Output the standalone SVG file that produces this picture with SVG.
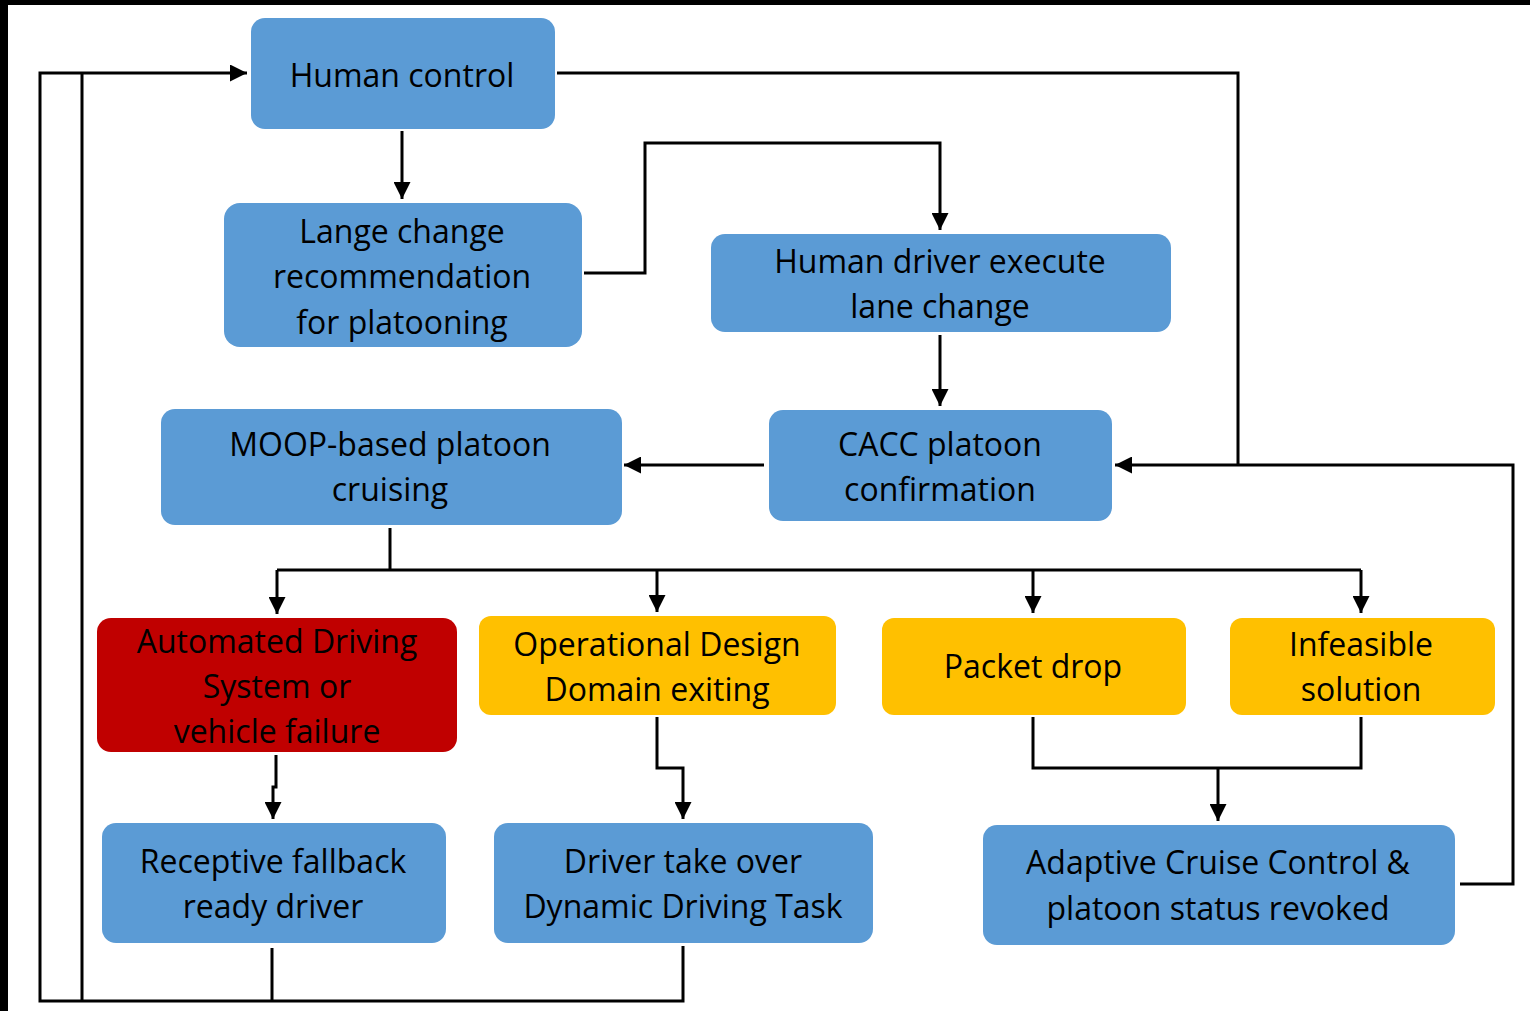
<svg xmlns="http://www.w3.org/2000/svg" width="1530" height="1011" viewBox="0 0 1530 1011">
<defs>
<style>
.blue{fill:#5B9BD5}
.red{fill:#C00000}
.yel{fill:#FFC000}
text{font-family:"Open Sans","Noto Sans","Liberation Sans",sans-serif;font-size:32px;fill:#000;text-anchor:middle}
.c{fill:none;stroke:#000;stroke-width:3}
</style>
<marker id="ah" viewBox="0 0 10 10" refX="10" refY="5" markerWidth="19" markerHeight="17" markerUnits="userSpaceOnUse" orient="auto">
<path d="M0,0 L10,5 L0,10 z" fill="#000"/>
</marker>
</defs>
<rect x="0" y="0" width="1530" height="1011" fill="#fff"/>
<rect x="0" y="0" width="1530" height="5" fill="#000"/>
<rect x="0" y="0" width="8" height="1011" fill="#000"/>

<g id="connectors">
<polyline class="c" points="402,131 402,199" marker-end="url(#ah)"/>
<polyline class="c" points="584,273 645,273 645,143 940,143 940,230" marker-end="url(#ah)"/>
<polyline class="c" points="940,335 940,406" marker-end="url(#ah)"/>
<polyline class="c" points="764,465 624,465" marker-end="url(#ah)"/>
<polyline class="c" points="557,73 1238,73 1238,465"/>
<polyline class="c" points="1460,884 1513,884 1513,465 1115,465" marker-end="url(#ah)"/>
<polyline class="c" points="390,528 390,570"/>
<polyline class="c" points="277,570 1361,570"/>
<polyline class="c" points="277,570 277,614" marker-end="url(#ah)"/>
<polyline class="c" points="657,570 657,612" marker-end="url(#ah)"/>
<polyline class="c" points="1033,570 1033,613" marker-end="url(#ah)"/>
<polyline class="c" points="1361,570 1361,613" marker-end="url(#ah)"/>
<polyline class="c" points="276,755 276,787 273,787 273,819" marker-end="url(#ah)"/>
<polyline class="c" points="657,717 657,768 683,768 683,819" marker-end="url(#ah)"/>
<polyline class="c" points="1033,717 1033,768 1361,768 1361,717"/>
<polyline class="c" points="1218,768 1218,821" marker-end="url(#ah)"/>
<polyline class="c" points="272,948 272,1001"/>
<polyline class="c" points="683,946 683,1001 40,1001 40,73 247,73" marker-end="url(#ah)"/>
<polyline class="c" points="82,1001 82,73"/>
</g>

<g id="human-control">
<rect class="blue" x="251" y="18" width="304" height="111" rx="14"/>
<text x="402" y="87">Human control</text>
</g>
<g id="lane-change-recommendation">
<rect class="blue" x="224" y="203" width="358" height="144" rx="16"/>
<text x="402" y="243">Lange change</text>
<text x="402" y="288">recommendation</text>
<text x="402" y="334">for platooning</text>
</g>
<g id="human-driver-execute">
<rect class="blue" x="711" y="234" width="460" height="98" rx="14"/>
<text x="940" y="273">Human driver execute</text>
<text x="940" y="318">lane change</text>
</g>
<g id="moop-cruising">
<rect class="blue" x="161" y="409" width="461" height="116" rx="14"/>
<text x="390" y="456">MOOP-based platoon</text>
<text x="390" y="501">cruising</text>
</g>
<g id="cacc-confirmation">
<rect class="blue" x="769" y="410" width="343" height="111" rx="14"/>
<text x="940" y="456">CACC platoon</text>
<text x="940" y="501">confirmation</text>
</g>
<g id="ads-failure">
<rect class="red" x="97" y="618" width="360" height="134" rx="14"/>
<text x="277" y="653">Automated Driving</text>
<text x="277" y="698">System or</text>
<text x="277" y="743">vehicle failure</text>
</g>
<g id="odd-exiting">
<rect class="yel" x="479" y="616" width="357" height="99" rx="12"/>
<text x="657" y="656">Operational Design</text>
<text x="657" y="701">Domain exiting</text>
</g>
<g id="packet-drop">
<rect class="yel" x="882" y="618" width="304" height="97" rx="12"/>
<text x="1033" y="678">Packet drop</text>
</g>
<g id="infeasible-solution">
<rect class="yel" x="1230" y="618" width="265" height="97" rx="12"/>
<text x="1361" y="656">Infeasible</text>
<text x="1361" y="701">solution</text>
</g>
<g id="receptive-fallback">
<rect class="blue" x="102" y="823" width="344" height="120" rx="14"/>
<text x="273" y="873">Receptive fallback</text>
<text x="273" y="918">ready driver</text>
</g>
<g id="driver-take-over">
<rect class="blue" x="494" y="823" width="379" height="120" rx="14"/>
<text x="683" y="873">Driver take over</text>
<text x="683" y="918">Dynamic Driving Task</text>
</g>
<g id="acc-revoked">
<rect class="blue" x="983" y="825" width="472" height="120" rx="14"/>
<text x="1218" y="874">Adaptive Cruise Control &amp;</text>
<text x="1218" y="920">platoon status revoked</text>
</g>
</svg>
